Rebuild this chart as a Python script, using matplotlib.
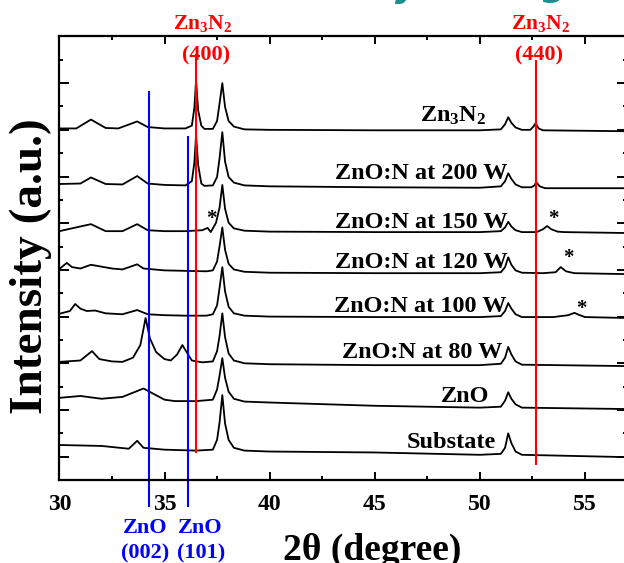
import matplotlib
matplotlib.use("Agg")
import matplotlib.pyplot as plt
from matplotlib.ticker import MultipleLocator

plt.rcParams["font.family"] = ["Liberation Serif", "DejaVu Serif"]
plt.rcParams["font.weight"] = "bold"
plt.rcParams["mathtext.fontset"] = "custom"
plt.rcParams["mathtext.rm"] = "Liberation Serif:bold"
plt.rcParams["mathtext.it"] = "Liberation Serif:bold"
plt.rcParams["mathtext.bf"] = "Liberation Serif:bold"

# difractogramas (2theta, intensidad relativa a la linea base de cada muestra)
tt_zn3n2 = [30.0, 30.8, 31.5, 32.2, 32.8, 33.7, 34.2, 35.0, 36.0, 36.3, 36.42, 36.5, 36.6, 36.75,
            36.9, 37.3, 37.5, 37.62, 37.75, 37.88, 38.05, 38.3, 38.8, 40.0, 45.0, 50.0, 51.0, 51.2,
            51.35, 51.5, 51.7, 52.0, 52.4, 52.55, 52.65, 52.8, 53.0, 57.0]
i_zn3n2 = [0.06, 0.06, 0.25, 0.07, 0.06, 0.21, 0.09, 0.06, 0.06, 0.12, 0.5, 1.09, 0.45, 0.12,
           0.05, 0.05, 0.22, 0.6, 1.03, 0.52, 0.22, 0.1, 0.04, 0.03, 0.02, 0.02, 0.04, 0.15,
           0.30, 0.18, 0.08, 0.03, 0.03, 0.1, 0.17, 0.06, 0.02, 0.0]

tt_200w = [30.0, 31.0, 31.5, 32.2, 33.0, 33.7, 34.2, 35.0, 36.0, 36.3, 36.42, 36.5, 36.6, 36.75,
           36.9, 37.3, 37.5, 37.62, 37.75, 37.88, 38.05, 38.3, 38.8, 40.0, 45.0, 50.0, 51.0, 51.2,
           51.35, 51.5, 51.7, 52.0, 52.45, 52.6, 52.68, 52.85, 53.1, 57.0]
i_200w = [0.09, 0.10, 0.23, 0.09, 0.08, 0.26, 0.1, 0.07, 0.06, 0.15, 0.55, 1.13, 0.5, 0.1,
          0.05, 0.06, 0.24, 0.65, 1.2, 0.57, 0.24, 0.12, 0.06, 0.04, 0.02, 0.01, 0.04, 0.15,
          0.32, 0.2, 0.08, 0.02, 0.02, 0.06, 0.13, 0.04, 0.0, 0.0]

tt_150w = [30.0, 31.5, 32.2, 33.0, 33.7, 34.2, 35.0, 36.0, 36.8, 36.9, 37.05, 37.2, 37.45, 37.62,
           37.75, 37.88, 38.05, 38.3, 38.8, 40.0, 45.0, 50.0, 51.0, 51.2, 51.35, 51.5, 51.7, 52.0,
           52.7, 53.0, 53.2, 53.4, 53.7, 54.0, 57.0]
i_150w = [0.04, 0.19, 0.04, 0.04, 0.19, 0.06, 0.04, 0.04, 0.06, 0.08, 0.11, 0.02, 0.22, 0.55,
          1.03, 0.52, 0.22, 0.1, 0.05, 0.03, 0.02, 0.02, 0.04, 0.12, 0.24, 0.14, 0.06, 0.02,
          0.02, 0.08, 0.15, 0.08, 0.03, 0.02, 0.0]

tt_120w = [30.0, 30.35, 30.6, 31.0, 31.5, 32.0, 32.5, 33.0, 33.7, 34.0, 35.0, 36.0, 37.0, 37.3,
           37.5, 37.62, 37.75, 37.88, 38.05, 38.3, 38.8, 40.0, 45.0, 50.0, 51.0, 51.2, 51.35, 51.5,
           51.7, 52.0, 53.0, 53.6, 53.85, 54.1, 54.5, 57.0]
i_120w = [0.11, 0.24, 0.15, 0.12, 0.2, 0.16, 0.12, 0.1, 0.21, 0.12, 0.08, 0.07, 0.06, 0.08,
          0.27, 0.6, 1.0, 0.52, 0.22, 0.1, 0.05, 0.03, 0.02, 0.02, 0.04, 0.15, 0.36, 0.2,
          0.08, 0.03, 0.02, 0.04, 0.15, 0.06, 0.02, 0.0]

tt_100w = [30.0, 30.5, 30.75, 31.0, 31.3, 31.7, 32.2, 33.0, 33.7, 34.2, 35.0, 36.0, 37.0, 37.3,
           37.5, 37.62, 37.75, 37.88, 38.05, 38.3, 38.8, 40.0, 45.0, 50.0, 51.0, 51.2, 51.35, 51.5,
           51.7, 52.0, 53.5, 54.2, 54.5, 54.7, 55.0, 57.0]
i_100w = [0.09, 0.15, 0.30, 0.2, 0.15, 0.16, 0.1, 0.08, 0.17, 0.08, 0.06, 0.05, 0.05, 0.08,
          0.27, 0.65, 1.09, 0.57, 0.24, 0.1, 0.05, 0.03, 0.02, 0.02, 0.04, 0.15, 0.32, 0.2,
          0.08, 0.02, 0.02, 0.06, 0.11, 0.07, 0.02, 0.0]

tt_80w = [30.0, 31.0, 31.55, 31.9, 32.5, 33.0, 33.5, 33.85, 34.1, 34.3, 34.6, 35.0, 35.3, 35.6,
          35.85, 36.05, 36.3, 36.8, 37.3, 37.5, 37.62, 37.75, 37.88, 38.05, 38.3, 38.8, 40.0, 45.0,
          50.0, 51.0, 51.2, 51.35, 51.5, 51.7, 52.0, 57.0]
i_80w = [0.09, 0.12, 0.32, 0.15, 0.1, 0.09, 0.18, 0.45, 1.03, 0.6, 0.3, 0.15, 0.12, 0.25,
         0.45, 0.3, 0.12, 0.08, 0.1, 0.32, 0.65, 1.13, 0.62, 0.27, 0.12, 0.06, 0.04, 0.02,
         0.02, 0.05, 0.18, 0.41, 0.25, 0.1, 0.03, 0.0]

tt_zno = [30.0, 31.0, 32.0, 33.0, 33.5, 34.0, 34.5, 35.0, 35.5, 36.5, 37.3, 37.5, 37.62, 37.75,
          37.88, 38.05, 38.3, 38.8, 40.0, 45.0, 50.0, 51.0, 51.2, 51.35, 51.5, 51.7, 52.0, 57.0]
i_zno = [0.24, 0.28, 0.22, 0.26, 0.35, 0.44, 0.32, 0.2, 0.17, 0.17, 0.2, 0.42, 0.72, 1.09,
         0.67, 0.37, 0.22, 0.16, 0.14, 0.07, 0.03, 0.05, 0.18, 0.36, 0.22, 0.1, 0.03, 0.0]

tt_sub = [30.0, 32.0, 33.3, 33.7, 34.0, 35.0, 36.5, 37.3, 37.5, 37.62, 37.75, 37.88, 38.05, 38.3,
          38.8, 40.0, 45.0, 50.0, 51.0, 51.2, 51.35, 51.5, 51.7, 52.0, 57.0]
i_sub = [0.26, 0.24, 0.18, 0.35, 0.2, 0.16, 0.14, 0.16, 0.37, 0.75, 1.33, 0.72, 0.37, 0.2,
         0.14, 0.12, 0.1, 0.05, 0.07, 0.2, 0.51, 0.3, 0.12, 0.05, 0.0]

muestras = ["Zn$_3$N$_2$", "ZnO:N at 200 W", "ZnO:N at 150 W", "ZnO:N at 120 W",
            "ZnO:N at 100 W", "ZnO:N at 80 W", "ZnO", "Substate"]
desplazamientos = [7.47, 6.25, 5.29, 4.41, 3.47, 2.44, 1.52, 0.49]

# posiciones de referencia (2theta)
zno_002 = 34.27
zno_101 = 36.14
zn3n2_400 = 36.52
zn3n2_440 = 52.66

fig = plt.figure(figsize=(6.24, 5.63), dpi=100)
ax = fig.add_axes([0.0952, 0.1474, 0.9096, 0.7895])

tts = [tt_zn3n2, tt_200w, tt_150w, tt_120w, tt_100w, tt_80w, tt_zno, tt_sub]
intens = [i_zn3n2, i_200w, i_150w, i_120w, i_100w, i_80w, i_zno, i_sub]
for tt, ii, off in zip(tts, intens, desplazamientos):
    ax.plot(tt, [v + off for v in ii], color="black", lw=1.3)

# etiquetas de cada muestra
x_etq = [50.3, 51.3, 51.3, 51.3, 51.25, 51.07, 50.45, 50.78]
y_etq = [7.67, 6.45, 5.40, 4.54, 3.60, 2.61, 1.67, 0.69]
for nombre, xe, ye in zip(muestras, x_etq, y_etq):
    ax.text(xe, ye, nombre, ha="right", va="baseline", fontsize=17.5)

# picos marcados con *
for xs, ys in [(37.25, 5.59), (53.48, 5.59), (54.19, 4.75), (54.81, 3.66)]:
    ax.text(xs, ys, "*", ha="center", va="center", fontsize=15)

# lineas de referencia
ax.vlines([zno_002], -0.58, 8.34, color="blue", lw=1.5, clip_on=False)
ax.vlines([zno_101], -0.58, 7.37, color="blue", lw=1.5, clip_on=False)
ax.vlines([zn3n2_400], 0.58, 9.12, color="red", lw=1.5, clip_on=False)
ax.vlines([zn3n2_440], 0.32, 9.0, color="red", lw=1.5, clip_on=False)

ax.text(36.82, 9.66, "Zn$_3$N$_2$", color="red", ha="center", va="baseline", fontsize=15.5)
ax.text(36.97, 8.99, "(400)", color="red", ha="center", va="baseline", fontsize=16)
ax.text(52.87, 9.66, "Zn$_3$N$_2$", color="red", ha="center", va="baseline", fontsize=15.5)
ax.text(52.82, 8.99, "(440)", color="red", ha="center", va="baseline", fontsize=16)

ax.text(34.07, -1.13, "ZnO", color="blue", ha="center", va="baseline", fontsize=16)
ax.text(34.07, -1.68, "(002)", color="blue", ha="center", va="baseline", fontsize=16)
ax.text(36.72, -1.13, "ZnO", color="blue", ha="center", va="baseline", fontsize=16)
ax.text(36.72, -1.68, "(101)", color="blue", ha="center", va="baseline", fontsize=16)

ax.set_xlim(30, 57)
ax.set_ylim(0, 9.52)
ax.xaxis.set_major_locator(MultipleLocator(5))
ax.xaxis.set_minor_locator(MultipleLocator(2.5))
ax.set_yticks([0.5 + k for k in range(10)])
ax.set_yticks([1.0 + k for k in range(9)], minor=True)
ax.set_yticklabels([])
ax.tick_params(which="both", direction="in", top=True, right=True, width=1.4)
ax.tick_params(which="major", length=6, pad=10, labelsize=17)
ax.tick_params(which="minor", length=3)
ax.tick_params(axis="y", which="major", length=7.5)
for sp in ax.spines.values():
    sp.set_linewidth(1.6)

fig.text(31 / 624, 1 - 266 / 563, "Intensity (a.u.)", rotation=90,
         ha="center", va="center", fontsize=34)
fig.text(372 / 624, 3 / 563, "2θ (degree)", ha="center", va="baseline", fontsize=27)

# restos del titulo de la diapositiva
fig.text(395 / 624, 1 + 3 / 563, "y", color="#1a908c", fontsize=26, fontweight="bold",
         style="italic", family="DejaVu Sans", va="baseline")
fig.text(538 / 624, 1 + 4 / 563, "g", color="#1a908c", fontsize=26, fontweight="bold",
         family="DejaVu Sans", va="baseline")

fig.savefig("out.png", dpi=100)
